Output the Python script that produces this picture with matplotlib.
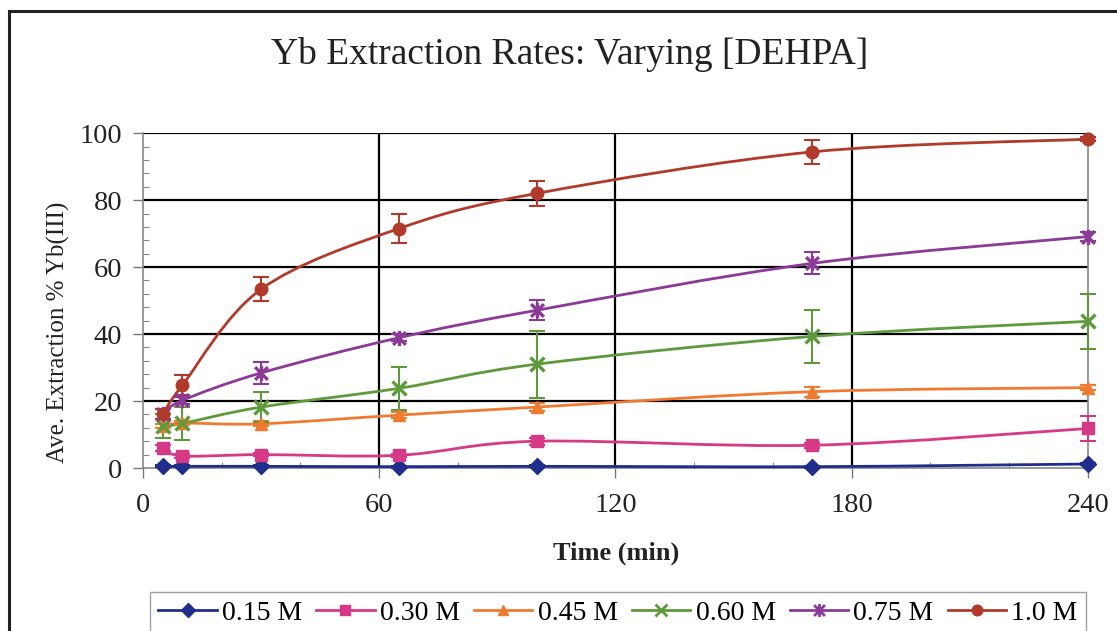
import numpy as np
import matplotlib
matplotlib.use("Agg")
import matplotlib.pyplot as plt
from matplotlib.path import Path
from matplotlib.patches import PathPatch
from matplotlib.lines import Line2D

plt.rcParams['font.family'] = ['Liberation Serif', 'DejaVu Serif']

times = [5, 10, 30, 65, 100, 170, 240]

labels = ['0.15 M', '0.30 M', '0.45 M', '0.60 M', '0.75 M', '1.0 M']

ext_015 = [0.5, 0.5, 0.5, 0.4, 0.5, 0.4, 1.2]
ext_030 = [6.0, 3.6, 4.0, 3.8, 8.0, 6.8, 11.8]
ext_045 = [12.5, 13.4, 13.2, 15.8, 18.2, 22.8, 24.0]
ext_060 = [12.5, 13.3, 18.2, 23.8, 31.0, 39.3, 43.8]
ext_075 = [16.2, 20.2, 28.4, 38.9, 47.1, 61.1, 69.1]
ext_100 = [16.0, 24.7, 53.4, 71.5, 82.0, 94.4, 98.2]

err_015 = [0.3, 0.3, 0.3, 0.3, 0.3, 0.3, 0.4]
err_030 = [1.0, 0.5, 0.5, 0.5, 1.0, 0.8, 3.6]
err_045 = [0.5, 0.5, 0.8, 1.0, 1.3, 1.5, 0.8]
err_060 = [3.5, 5.0, 4.5, 6.5, 10.0, 8.0, 8.2]
err_075 = [1.5, 1.0, 3.4, 1.0, 3.0, 3.3, 1.3]
err_100 = [1.5, 3.0, 3.6, 4.3, 3.8, 3.6, 0.5]

# asterisk-style marker: an x with a vertical stroke through it
star = Path([(-1, -1), (1, 1), (-1, 1), (1, -1), (0, -1.2), (0, 1.2)],
            [Path.MOVETO, Path.LINETO, Path.MOVETO, Path.LINETO, Path.MOVETO, Path.LINETO])

series = [
    (ext_015, err_015, '#1f2e8c', 'D', 8),
    (ext_030, err_030, '#d63a86', 's', 9),
    (ext_045, err_045, '#f07a30', '^', 9),
    (ext_060, err_060, '#5e9a3c', 'x', 10),
    (ext_075, err_075, '#8b3a98', star, 11),
    (ext_100, err_100, '#b23a2a', 'o', 9),
]


def smooth_path(x, y):
    # cubic Bezier segments with Catmull-Rom style handles
    pts = np.column_stack([x, y]).astype(float)
    n = len(pts)
    verts = [pts[0]]
    codes = [Path.MOVETO]
    for i in range(n - 1):
        p0 = pts[i - 1] if i > 0 else pts[i]
        p1 = pts[i]
        p2 = pts[i + 1]
        p3 = pts[i + 2] if i + 2 < n else pts[i + 1]
        c1 = p1 + (p2 - p0) / 6.0
        c2 = p2 - (p3 - p1) / 6.0
        verts += [c1, c2, p2]
        codes += [Path.CURVE4] * 3
    return Path(verts, codes)


fig = plt.figure(figsize=(11.17, 6.31), dpi=100)
ax = fig.add_axes([0.128, 0.2583, 0.846, 0.5307])

for yv in [20, 40, 60, 80, 100]:
    ax.axhline(yv, color='black', lw=1.6, zorder=1)
for xv in [60, 120, 180]:
    ax.axvline(xv, color='black', lw=1.6, zorder=1)

handles = []
for vals, errs, col, mk, ms in series:
    ax.add_patch(PathPatch(smooth_path(times, vals), fill=False, edgecolor=col,
                           lw=2.0, zorder=3, clip_on=False))
    hollow = mk == 'x' or isinstance(mk, Path)
    ax.errorbar(times, vals, yerr=errs, fmt='none', ecolor=col, elinewidth=1.5,
                capsize=6, capthick=1.5, zorder=4, clip_on=False)
    ax.plot(times, vals, linestyle='none', marker=mk, ms=ms, color=col,
            mec=col, mew=2.4 if hollow else 1, zorder=5, clip_on=False)
    handles.append(Line2D([], [], color=col, lw=2.0, marker=mk, ms=ms * 0.85,
                          mec=col, mew=2.0 if hollow else 1))

ax.set_xlim(0, 240)
ax.set_ylim(0, 100)
ax.set_xticks([0, 60, 120, 180, 240])
ax.set_yticks([0, 20, 40, 60, 80, 100])
ax.set_xticks(np.arange(0, 241, 20), minor=True)
ax.set_yticks(np.arange(0, 101, 4), minor=True)
ax.tick_params(axis='both', which='major', direction='out', length=7, width=1,
               color='#777777', labelsize=20.5, labelcolor='#222222')
ax.tick_params(axis='x', which='major', pad=11)
ax.tick_params(axis='y', which='major', pad=8)
ax.tick_params(axis='both', which='minor', direction='in', length=4, width=0.8,
               color='#888888')

for side in ['left', 'bottom', 'right']:
    ax.spines[side].set_color('#888888')
    ax.spines[side].set_linewidth(1.2)
ax.spines['top'].set_visible(False)

ax.set_xlabel('Time (min)', fontsize=19, fontweight='bold', color='#222222')
ax.xaxis.set_label_coords(616 / 945 - 143 / 945 + 0.0, -(553 - 468) / 335)
ax.set_ylabel('Ave. Extraction % Yb(III)', fontsize=18, color='#222222')
ax.yaxis.set_label_coords((58 - 143) / 945, (468 - 332) / 335)
ax.xaxis.label.set_va('center')
ax.yaxis.label.set_va('center')

fig.text(570 / 1117, 1 - 55 / 631, 'Yb Extraction Rates: Varying [DEHPA]',
         ha='center', va='center', fontsize=27, color='#222222')

leg = fig.legend(handles, labels, loc='upper center', ncol=6,
                 bbox_to_anchor=(618 / 1117, 1 - 592 / 631), fontsize=20,
                 frameon=True, fancybox=False, handlelength=2.1, handletextpad=0.2,
                 columnspacing=0.5, borderpad=0.3, borderaxespad=0)
leg.get_frame().set_edgecolor('#888888')
leg.get_frame().set_linewidth(1.0)

# chart frame: top and left edges
fig.add_artist(Line2D([9 / 1117, 9 / 1117], [0, 1 - 11 / 631], color='#222222', lw=2.2))
fig.add_artist(Line2D([9 / 1117, 1], [1 - 11 / 631, 1 - 11 / 631], color='#222222', lw=2.2))

fig.savefig('out.png', dpi=100)
